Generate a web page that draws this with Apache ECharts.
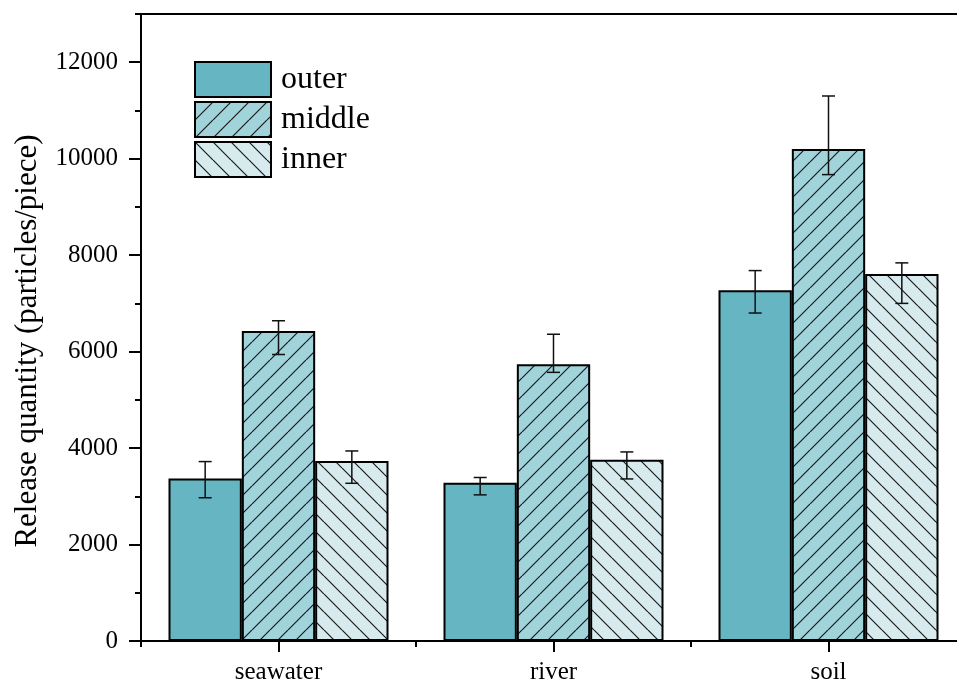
<!DOCTYPE html>
<html>
<head>
<meta charset="utf-8">
<title>Release quantity</title>
<script src="https://cdn.jsdelivr.net/npm/echarts@6/dist/echarts.min.js"></script>
<style>
  html, body { margin: 0; padding: 0; background: #fff; overflow: hidden; }
  /* The plot frame runs a little past the right edge of the page */
  #chart { width: 975px; height: 685px; }
</style>
</head>
<body>
<div id="chart"></div>
<script>
// Sample media and layer names
const categories = ['seawater', 'river', 'soil'];
const layerNames = ['outer', 'middle', 'inner'];

// Mean release (particles/piece)
const outerMean  = [3370, 3280, 7270];
const middleMean = [6430, 5740, 10200];
const innerMean  = [3730, 3760, 7610];

// Error bar limits (lower / upper)
const outerLow   = [2970, 3030, 6800];
const outerHigh  = [3720, 3390, 7680];
const middleLow  = [5940, 5570, 9670];
const middleHigh = [6640, 6360, 11300];
const innerLow   = [3270, 3360, 7000];
const innerHigh  = [3940, 3920, 7840];

// Y axis ticks
const yMax = 13000;
const yLabelMax = 12000;
const yMajorStep = 2000;
const yMinorStep = 1000;

const FONT = "'Liberation Serif', 'Times New Roman', serif";

// Hatched fill tile: forward = '/' lines, otherwise '\'
function hatch(bg, forward) {
  const s = 18;
  const c = document.createElement('canvas');
  c.width = s; c.height = s;
  const g = c.getContext('2d');
  g.fillStyle = bg;
  g.fillRect(0, 0, s, s);
  g.strokeStyle = '#1a1a1a';
  g.lineWidth = 1.2;
  g.beginPath();
  for (const k of [-s, 0, s]) {
    if (forward) { g.moveTo(k, s); g.lineTo(k + s, 0); }
    else { g.moveTo(k, 0); g.lineTo(k + s, s); }
  }
  g.stroke();
  return { image: c, repeat: 'repeat' };
}

const fills = [
  '#65b5c2',
  hatch('#a1d3db', true),
  hatch('#d7ebee', false)
];

const means = [outerMean, middleMean, innerMean];
const lows = [outerLow, middleLow, innerLow];
const highs = [outerHigh, middleHigh, innerHigh];

const CAT_GAP = 0.2;

const barSeries = layerNames.map((name, i) => ({
  name: name,
  type: 'bar',
  xAxisIndex: 0,
  yAxisIndex: 0,
  barGap: '0%',
  barCategoryGap: (CAT_GAP * 100) + '%',
  data: means[i],
  itemStyle: { color: fills[i], borderColor: '#000', borderWidth: 2 },
  emphasis: { disabled: true },
  z: 2
}));

const errSeries = layerNames.map((name, i) => ({
  name: name + '-err',
  type: 'custom',
  xAxisIndex: 0,
  yAxisIndex: 0,
  z: 5,
  silent: true,
  encode: { x: 0, y: [1, 2] },
  data: categories.map((c, j) => [j, lows[i][j], highs[i][j]]),
  renderItem: function (params, api) {
    const band = api.size([1, 0])[0];
    const barW = band * (1 - CAT_GAP) / layerNames.length;
    const cx = api.coord([api.value(0), 0])[0] + (i - 1) * barW;
    const yLo = api.coord([api.value(0), api.value(1)])[1];
    const yHi = api.coord([api.value(0), api.value(2)])[1];
    const half = 6.5;
    const style = { stroke: '#111', lineWidth: 1.5 };
    return {
      type: 'group',
      children: [
        { type: 'line', shape: { x1: cx, y1: yLo, x2: cx, y2: yHi }, style: style },
        { type: 'line', shape: { x1: cx - half, y1: yHi, x2: cx + half, y2: yHi }, style: style },
        { type: 'line', shape: { x1: cx - half, y1: yLo, x2: cx + half, y2: yLo }, style: style }
      ]
    };
  }
}));

const GRID_LEFT = 141, GRID_TOP = 14, GRID_H = 627, GRID_W = 825;
const majorTop = GRID_TOP + GRID_H * (yMax - yLabelMax) / yMax;

const chart = echarts.init(document.getElementById('chart'), null, { renderer: 'canvas' });
chart.setOption({
  animation: false,
  backgroundColor: '#fff',
  grid: [
    { left: GRID_LEFT, top: GRID_TOP, width: GRID_W, height: GRID_H,
      show: true, borderColor: '#000', borderWidth: 2, backgroundColor: 'transparent' },
    { left: GRID_LEFT, top: majorTop, width: GRID_W, height: GRID_TOP + GRID_H - majorTop }
  ],
  legend: {
    data: layerNames,
    orient: 'vertical',
    left: 194,
    top: 61,
    padding: 0,
    itemWidth: 76,
    itemHeight: 35,
    itemGap: 3,
    icon: 'rect',
    selectedMode: false,
    itemStyle: { borderColor: '#000', borderWidth: 2 },
    textStyle: { fontFamily: FONT, fontSize: 32, lineHeight: 35, color: '#000', padding: [0, 0, 0, 5] }
  },
  xAxis: [
    { // axis line + boundary ticks
      type: 'category', gridIndex: 0, position: 'bottom', data: categories,
      axisLine: { lineStyle: { color: '#000', width: 2 } },
      axisTick: { show: true, alignWithLabel: false, length: 6, lineStyle: { color: '#000', width: 2 } },
      axisLabel: { show: false },
      splitLine: { show: false }
    },
    { // centred ticks + category labels
      type: 'category', gridIndex: 0, position: 'bottom', data: categories,
      axisLine: { show: false },
      axisTick: { show: true, alignWithLabel: true, length: 11, lineStyle: { color: '#000', width: 2 } },
      axisLabel: { show: true, fontFamily: FONT, fontSize: 25, color: '#000', margin: 19 },
      splitLine: { show: false }
    },
    { type: 'category', gridIndex: 1, data: categories, show: false }
  ],
  yAxis: [
    {
      type: 'value', gridIndex: 0, min: 0, max: yMax, interval: yMinorStep,
      name: 'Release quantity (particles/piece)',
      nameLocation: 'middle',
      nameGap: 98,
      nameTextStyle: { fontFamily: FONT, fontSize: 31, color: '#000', padding: [0, 27, 0, 0] },
      axisLine: { show: true, lineStyle: { color: '#000', width: 2 } },
      axisTick: { show: true, length: 6, lineStyle: { color: '#000', width: 2 } },
      axisLabel: { show: false },
      splitLine: { show: false }
    },
    {
      type: 'value', gridIndex: 1, min: 0, max: yLabelMax, interval: yMajorStep,
      axisLine: { show: false },
      axisTick: { show: true, length: 12, lineStyle: { color: '#000', width: 2 } },
      axisLabel: { show: true, fontFamily: FONT, fontSize: 25, color: '#000', margin: 23,
                   formatter: (v) => String(v) },
      splitLine: { show: false }
    }
  ],
  series: barSeries.concat(errSeries)
});
</script>
</body>
</html>
